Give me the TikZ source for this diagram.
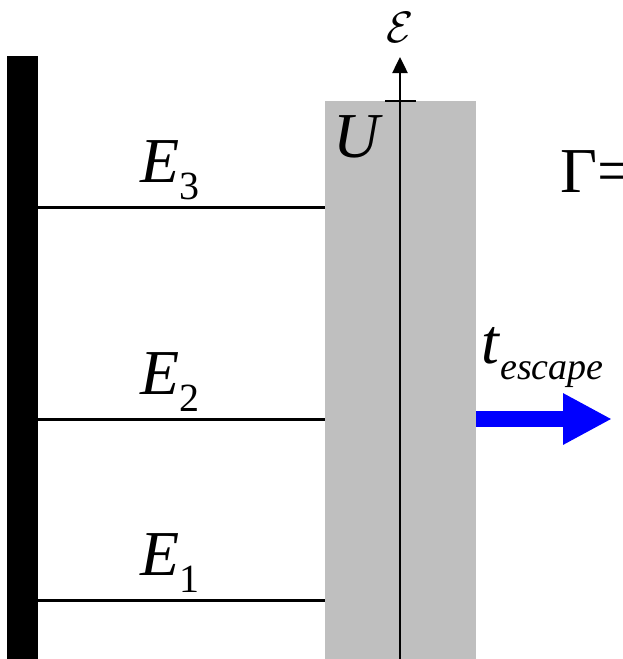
\documentclass[tikz,border=0pt]{standalone}
\usepackage{fontspec}
\setmainfont{Liberation Serif}[ItalicFont={Liberation Serif Italic},BoldFont={Liberation Serif Bold}]
\usetikzlibrary{arrows.meta}

\newcommand{\lvl}[2]{\textit{#1}\raisebox{-0.27em}{\fontsize{40}{44}\selectfont #2}}

\begin{document}
\begin{tikzpicture}[x=1pt,y=-1pt,
  level/.style={line width=3pt},
  big/.style={font=\fontsize{64}{70}\selectfont}]
\useasboundingbox (0,0) rectangle (622,659);
\clip (0,0) rectangle (622,659);
% wall and barrier
\fill[black] (7,56) rectangle (38,659);
\fill[black!25] (325,101) rectangle (476,659);
% energy axis
\coordinate (axbot) at (400,659);
\coordinate (axtop) at (400,57);
\draw[line width=2.5pt,-{Triangle[length=16pt,width=15pt]}] (axbot) -- (axtop);
\coordinate (tickl) at (385,101);
\coordinate (tickr) at (416,101);
\draw[line width=2pt] (tickl) -- (tickr);
\node[anchor=base,inner sep=0] (eps) at (400,42) {\scalebox{4.4}{$\mathcal{E}$}};
\node[big,anchor=base west,inner sep=0] (U) at (333,157) {\textit{U}};
% levels
\foreach \n/\y in {1/600,2/419,3/207} {
  \coordinate (l\n) at (38,\y);
  \coordinate (r\n) at (325,\y);
  \draw[level] (l\n) -- (r\n);
  \node[big,anchor=base west,inner sep=0] (e\n) at (140,\y-25) {\lvl{E}{\n}};
}
\node[big,anchor=base west,inner sep=0] (gam) at (560,192) {Γ=};
% escape
\node[big,anchor=base west,inner sep=0] (tesc) at (481,363) {\textit{t}\raisebox{-0.26em}{\fontsize{38}{42}\selectfont\textit{escape}}};
\coordinate (out0) at (476,419);
\coordinate (out1) at (612,419);
\draw[blue,line width=16pt,-{Triangle[length=49pt,width=48pt]}] (out0) -- (out1);
\end{tikzpicture}
\end{document}
